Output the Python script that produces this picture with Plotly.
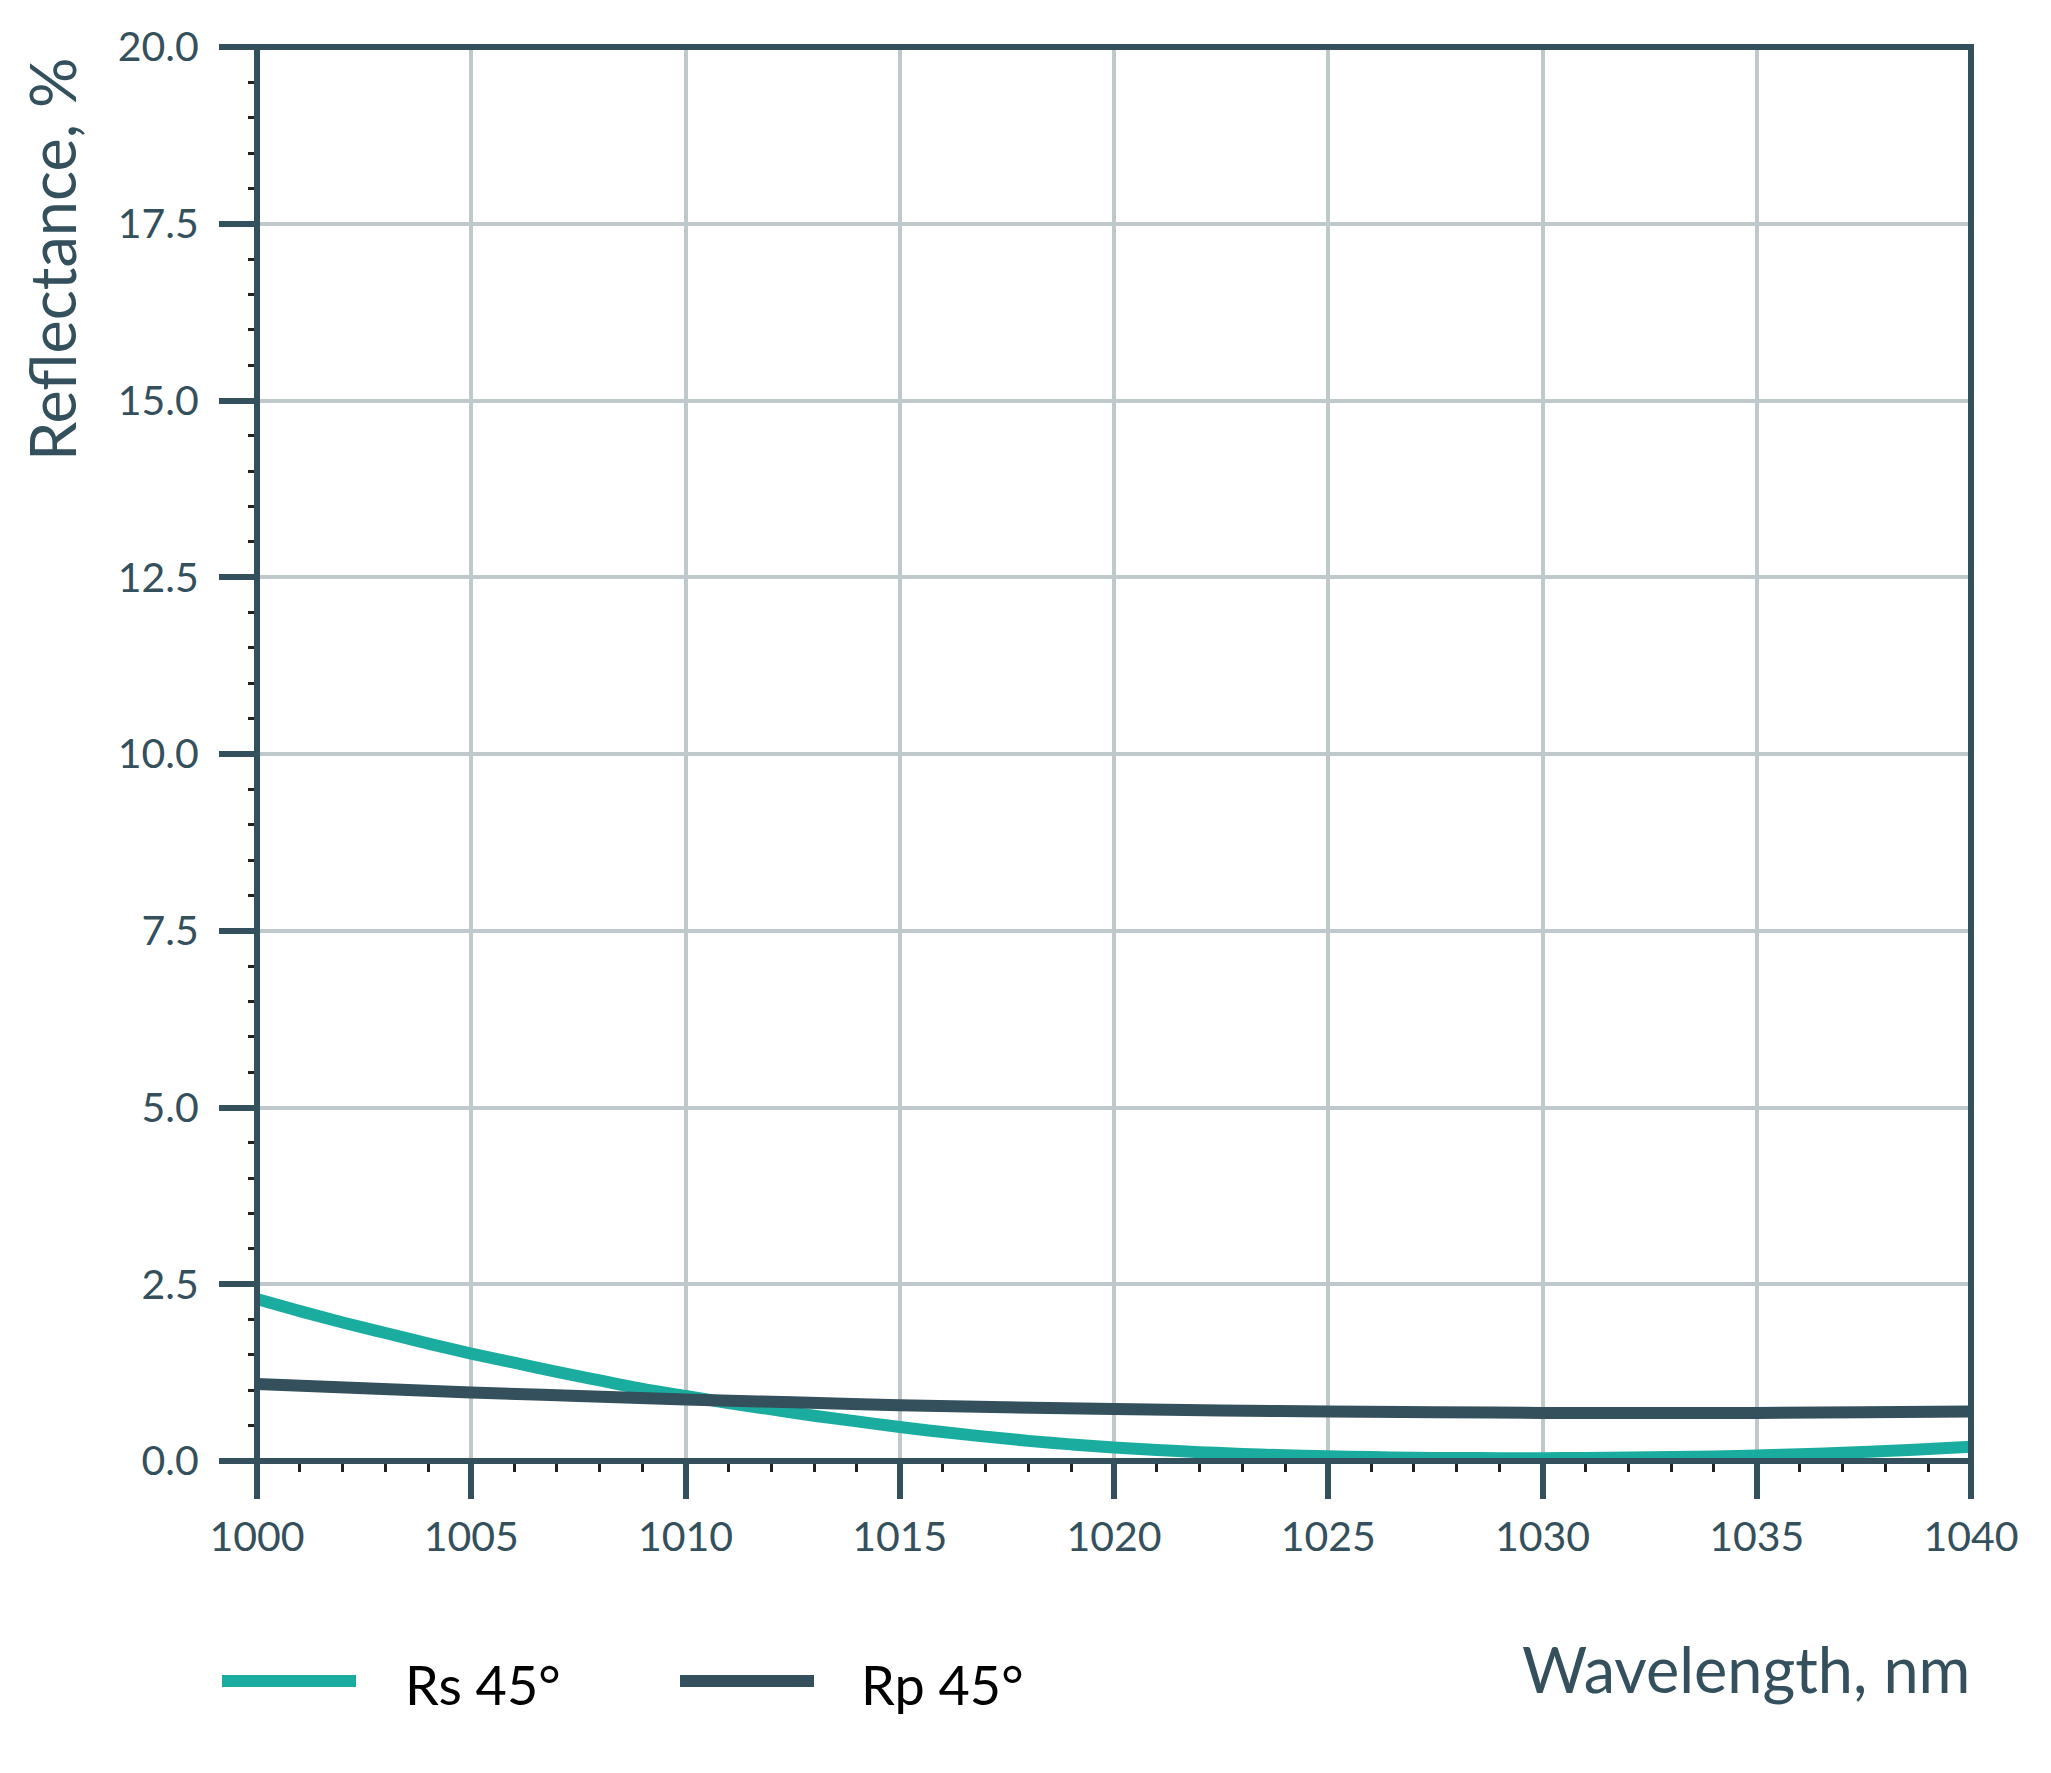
import plotly.graph_objects as go

# ---- data ----
wavelength_rs = [1000, 1001, 1002, 1003, 1004, 1005, 1006, 1007, 1008, 1009, 1010,
                 1011, 1012, 1013, 1014, 1015, 1016, 1017, 1018, 1019, 1020,
                 1021, 1022, 1023, 1024, 1025, 1026, 1027, 1028, 1029, 1030,
                 1031, 1032, 1033, 1034, 1035, 1036, 1037, 1038, 1039, 1040]
rs_45 = [2.29, 2.12, 1.96, 1.81, 1.66, 1.52, 1.39, 1.26, 1.14, 1.02, 0.92,
         0.82, 0.73, 0.64, 0.56, 0.48, 0.41, 0.345, 0.285, 0.235, 0.19,
         0.155, 0.125, 0.10, 0.08, 0.066, 0.055, 0.047, 0.042, 0.04, 0.04,
         0.043, 0.048, 0.055, 0.065, 0.078, 0.095, 0.115, 0.14, 0.17, 0.20]

wavelength_rp = [1000, 1002.5, 1005, 1007.5, 1010, 1012.5, 1015, 1017.5, 1020,
                 1022.5, 1025, 1027.5, 1030, 1032.5, 1035, 1037.5, 1040]
rp_45 = [1.09, 1.03, 0.97, 0.92, 0.87, 0.83, 0.79, 0.76, 0.735,
         0.715, 0.70, 0.69, 0.68, 0.678, 0.68, 0.688, 0.70]

series_names = ["Rs 45°", "Rp 45°"]
x_ticks = [1000, 1005, 1010, 1015, 1020, 1025, 1030, 1035, 1040]
y_ticks = [0, 2.5, 5, 7.5, 10, 12.5, 15, 17.5, 20]

TEAL = "#1AAD9F"
SLATE = "#34505C"
GRID = "#BFC9CC"
FONT = "Lato"

fig = go.Figure()
fig.add_trace(go.Scatter(x=wavelength_rs, y=rs_45, mode="lines", name=series_names[0],
                         line=dict(color=TEAL, width=12, shape="spline"), showlegend=False))
fig.add_trace(go.Scatter(x=wavelength_rp, y=rp_45, mode="lines", name=series_names[1],
                         line=dict(color=SLATE, width=12, shape="spline"), showlegend=False))

axis_common = dict(
    showline=False,
    ticks="outside", ticklen=37, tickwidth=6, tickcolor=SLATE,
    showgrid=True, gridcolor=GRID, gridwidth=4,
    zeroline=False,
    tickfont=dict(family=FONT, size=41, color=SLATE),
)

fig.update_xaxes(range=[1000, 1040], tickvals=x_ticks, ticktext=[str(v) for v in x_ticks],
                 minor=dict(ticks="outside", ticklen=10, tickwidth=3, tickcolor="#222222",
                            dtick=1, tick0=1000, showgrid=False),
                 ticklabelstandoff=3, **axis_common)
fig.update_yaxes(range=[0, 20], tickvals=y_ticks, ticktext=[f"{v:.1f}" for v in y_ticks],
                 minor=dict(ticks="outside", ticklen=8, tickwidth=3, tickcolor="#222222",
                            dtick=0.5, tick0=0, showgrid=False),
                 ticklabelstandoff=12, **axis_common)

W, H = 2051, 1773
L, R, T, B = 257, 80, 47, 312
pw, ph = W - L - R, H - T - B

def px(xp):
    return (xp - L) / pw

def py(yp):
    return (H - B - yp) / ph

annotations = [
    dict(text="Reflectance, %", xref="paper", yref="paper", x=px(52), y=py(259),
         xanchor="center", yanchor="middle", textangle=-90, showarrow=False,
         font=dict(family=FONT, size=63, color=SLATE)),
    dict(text="Wavelength, nm", xref="paper", yref="paper", x=px(1972), y=py(1668),
         xanchor="right", yanchor="middle", showarrow=False,
         font=dict(family=FONT, size=63, color=SLATE)),
    dict(text=series_names[0], xref="paper", yref="paper", x=px(403), y=py(1684),
         xanchor="left", yanchor="middle", showarrow=False,
         font=dict(family=FONT, size=54, color="#000000")),
    dict(text=series_names[1], xref="paper", yref="paper", x=px(859), y=py(1684),
         xanchor="left", yanchor="middle", showarrow=False,
         font=dict(family=FONT, size=54, color="#000000")),
]
shapes = [
    # plot frame (axis lines) drawn above the traces
    dict(type="rect", xref="paper", yref="paper", x0=0, x1=1, y0=0, y1=1,
         line=dict(color=SLATE, width=6), fillcolor="rgba(0,0,0,0)", layer="above"),
    # legend swatches
    dict(type="line", xref="paper", yref="paper", x0=px(222), x1=px(356), y0=py(1681), y1=py(1681),
         line=dict(color=TEAL, width=12)),
    dict(type="line", xref="paper", yref="paper", x0=px(680), x1=px(814), y0=py(1681), y1=py(1681),
         line=dict(color=SLATE, width=12)),
]

fig.update_layout(
    width=W, height=H,
    margin=dict(l=L, r=R, t=T, b=B, autoexpand=False),
    paper_bgcolor="white", plot_bgcolor="white",
    annotations=annotations, shapes=shapes,
    showlegend=False,
)

fig.write_html("out.html")
